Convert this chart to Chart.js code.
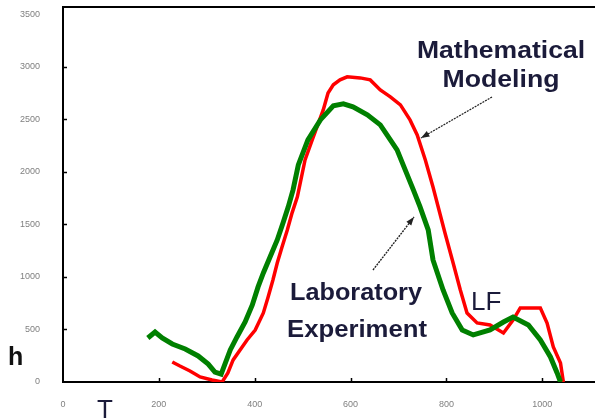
<!DOCTYPE html>
<html>
<head>
<meta charset="utf-8">
<script src="https://cdn.jsdelivr.net/npm/chart.js@4"></script>
<style>
  html, body { margin: 0; padding: 0; background: #fff; }
  #wrap { width: 595px; height: 419px; position: relative; }
</style>
</head>
<body>
<div id="wrap"><canvas id="chart"></canvas></div>
<script>
// Data (T on x, h on y)
const labT = [177, 192, 207, 228, 255, 282, 303, 317, 330, 349, 363, 380, 395, 407, 418, 432, 447, 459, 470, 480, 491, 511, 537, 564, 585, 605, 635, 662, 683, 697, 714, 731, 745, 762, 772, 793, 812, 833, 856, 891, 919, 939, 971, 996, 1017, 1031, 1038];
const labH = [419, 476, 419, 362, 314, 248, 171, 95, 75, 305, 429, 571, 733, 905, 1038, 1190, 1352, 1514, 1667, 1829, 2067, 2305, 2495, 2629, 2648, 2619, 2543, 2448, 2305, 2210, 2019, 1829, 1667, 1448, 1162, 876, 657, 495, 448, 495, 571, 619, 543, 400, 238, 86, 0];

const modT = [228, 244, 265, 286, 311, 332, 344, 355, 384, 401, 418, 428, 438, 447, 457, 468, 478, 489, 505, 520, 543, 553, 564, 578, 593, 620, 641, 662, 683, 704, 724, 739, 756, 772, 797, 814, 829, 843, 864, 891, 919, 939, 954, 996, 1010, 1023, 1038, 1044];
const modH = [190, 152, 105, 48, 19, 0, 86, 210, 400, 495, 657, 810, 971, 1133, 1286, 1448, 1610, 1762, 2114, 2305, 2590, 2752, 2829, 2876, 2905, 2895, 2876, 2781, 2714, 2638, 2495, 2352, 2114, 1857, 1419, 1133, 876, 657, 562, 543, 467, 590, 705, 705, 562, 333, 181, 0];

const xTicks = [0, 200, 400, 600, 800, 1000];
const yTicks = [0, 500, 1000, 1500, 2000, 2500, 3000, 3500];

const toPoints = (xs, ys) => xs.map((x, i) => ({ x: x, y: ys[i] }));

// draws bold text stretched to a given width, centred on cx
function stretchText(ctx, text, cx, y, width, font) {
    ctx.font = font;
    const w = ctx.measureText(text).width;
    ctx.save();
    ctx.translate(cx, y);
    ctx.scale(width / w, 1);
    ctx.textAlign = 'center';
    ctx.fillText(text, 0, 0);
    ctx.restore();
}

function arrow(ctx, x1, y1, x2, y2) {
    ctx.save();
    ctx.strokeStyle = '#222';
    ctx.fillStyle = '#222';
    ctx.lineWidth = 1.4;
    ctx.setLineDash([2, 1]);
    ctx.beginPath();
    ctx.moveTo(x1, y1);
    ctx.lineTo(x2, y2);
    ctx.stroke();
    ctx.setLineDash([]);
    const a = Math.atan2(y2 - y1, x2 - x1);
    ctx.beginPath();
    ctx.moveTo(x2, y2);
    ctx.lineTo(x2 - 9 * Math.cos(a - 0.35), y2 - 9 * Math.sin(a - 0.35));
    ctx.lineTo(x2 - 9 * Math.cos(a + 0.35), y2 - 9 * Math.sin(a + 0.35));
    ctx.closePath();
    ctx.fill();
    ctx.restore();
}

// inward tick marks, top frame line and the text notes
const decor = {
    id: 'decor',
    afterDraw(chart) {
        const ctx = chart.ctx;
        const area = chart.chartArea;
        const xs = chart.scales.x, ys = chart.scales.y;
        ctx.save();
        ctx.strokeStyle = '#000';
        ctx.lineWidth = 1.5;
        yTicks.slice(1, -1).forEach(v => {
            const py = Math.round(ys.getPixelForValue(v)) + 0.5;
            ctx.beginPath();
            ctx.moveTo(area.left, py);
            ctx.lineTo(area.left + 4, py);
            ctx.stroke();
        });
        xTicks.slice(1).forEach(v => {
            const px = Math.round(xs.getPixelForValue(v)) + 0.5;
            ctx.beginPath();
            ctx.moveTo(px, area.bottom);
            ctx.lineTo(px, area.bottom - 4);
            ctx.stroke();
        });
        ctx.lineWidth = 2;
        ctx.beginPath();
        ctx.moveTo(area.left - 1, area.top);
        ctx.lineTo(area.right, area.top);
        ctx.stroke();

        ctx.fillStyle = '#1b1b3a';
        ctx.textBaseline = 'alphabetic';
        stretchText(ctx, 'Mathematical', 501, 58, 168, 'bold 23px "Liberation Sans", Arial, sans-serif');
        stretchText(ctx, 'Modeling', 501, 87, 117, 'bold 23px "Liberation Sans", Arial, sans-serif');
        stretchText(ctx, 'Laboratory', 356, 300, 132, 'bold 24px "Liberation Sans", Arial, sans-serif');
        stretchText(ctx, 'Experiment', 357, 337, 140, 'bold 24px "Liberation Sans", Arial, sans-serif');

        ctx.textAlign = 'left';
        ctx.font = '26px "Liberation Sans", Arial, sans-serif';
        ctx.fillText('LF', 471, 310);
        ctx.fillText('T', 97, 418);
        ctx.fillStyle = '#111';
        ctx.font = 'bold 25px "Liberation Sans", Arial, sans-serif';
        ctx.fillText('h', 8, 365);

        arrow(ctx, 492, 97, 421, 138);
        arrow(ctx, 373, 270, 414, 217);
        ctx.restore();
    }
};

const noPad = s => { s.paddingTop = 0; s.paddingBottom = 0; s.paddingLeft = 0; s.paddingRight = 0; };

new Chart(document.getElementById('chart'), {
    type: 'line',
    data: {
        datasets: [
            {
                label: 'Laboratory Experiment',
                data: toPoints(labT, labH),
                borderColor: '#008000',
                borderWidth: 5,
                pointRadius: 0,
                tension: 0
            },
            {
                label: 'Mathematical Modeling',
                data: toPoints(modT, modH),
                borderColor: '#ff0000',
                borderWidth: 3.5,
                pointRadius: 0,
                tension: 0
            }
        ]
    },
    options: {
        responsive: true,
        maintainAspectRatio: false,
        animation: false,
        layout: { padding: { top: 7, left: 0, right: 0, bottom: 0 } },
        plugins: { legend: { display: false }, tooltip: { enabled: false } },
        scales: {
            x: {
                type: 'linear',
                min: 0, max: 1110,
                grid: { display: false },
                border: { display: true, color: '#000', width: 2 },
                afterBuildTicks: s => { s.ticks = xTicks.map(v => ({ value: v })); },
                afterFit: s => { s.height = 37; noPad(s); },
                ticks: {
                    color: '#808080', padding: 9, maxRotation: 0,
                    font: { family: 'Liberation Sans', size: 9 },
                    callback: v => String(v)
                }
            },
            y: {
                min: 0, max: 3570,
                grid: { display: false },
                border: { display: true, color: '#000', width: 2 },
                afterBuildTicks: s => { s.ticks = yTicks.map(v => ({ value: v })); },
                afterFit: s => { s.width = 63; noPad(s); },
                ticks: {
                    color: '#808080', padding: 15,
                    font: { family: 'Liberation Sans', size: 9 },
                    callback: v => String(v)
                }
            }
        }
    },
    plugins: [decor]
});
</script>
</body>
</html>
